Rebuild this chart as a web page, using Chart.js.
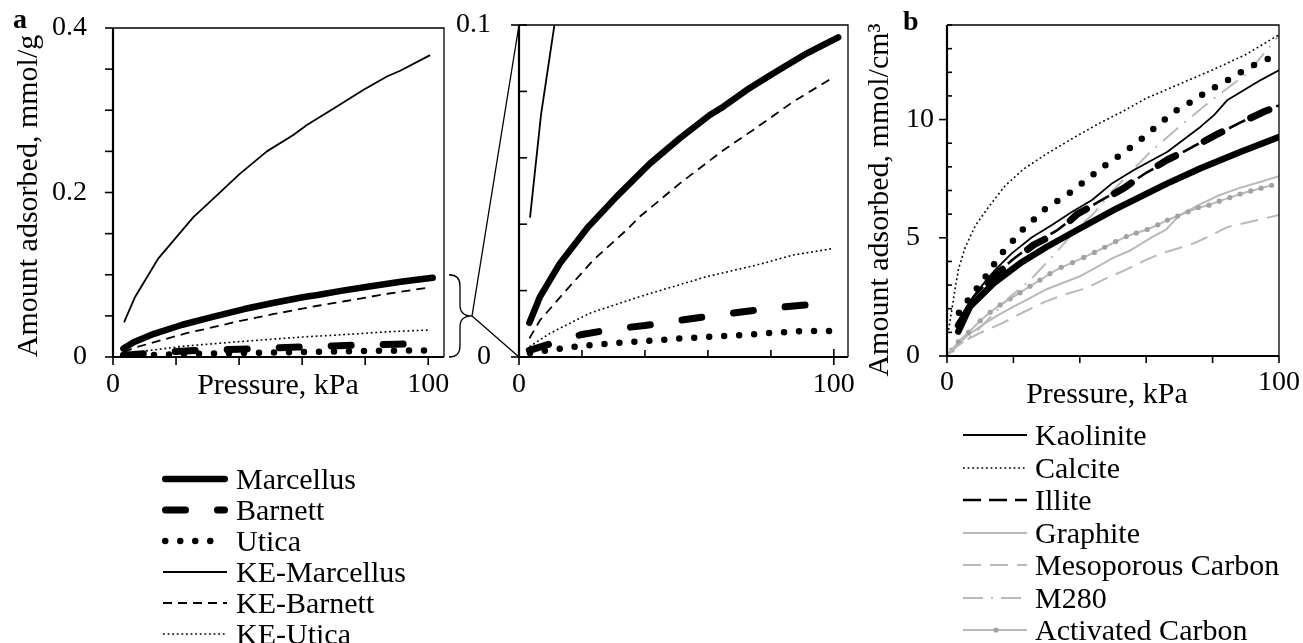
<!DOCTYPE html>
<html>
<head>
<meta charset="utf-8">
<script src="https://cdn.jsdelivr.net/npm/chart.js@4.4.1/dist/chart.umd.min.js"></script>
<style>
  body { margin: 0; background: #fff; width: 1303px; height: 643px; overflow: hidden; position: relative;
         font-family: 'Liberation Serif', 'Times New Roman', serif; }
  canvas { position: absolute; left: 0; top: 0; }
  .lg-row { position: absolute; height: 40px; line-height: 40px; font-size: 30px; white-space: nowrap; color: #000; }
  .lg-svg { position: absolute; }
</style>
</head>
<body>
<canvas id="panel-a" width="1303" height="643"></canvas>
<canvas id="panel-zoom" width="1303" height="643"></canvas>
<canvas id="panel-b" width="1303" height="643"></canvas>
<div id="legends"></div>
<script>
// ── Panel a and its inset: shale isotherms, mmol/g vs kPa ──────
const MARCELLUS_P = [3.3, 6.7, 13, 22, 31, 41.6, 51.1, 60.6, 64.9, 72.3, 80.7, 91.3, 95.6, 101.4];
const MARCELLUS_V = [0.0103, 0.0182, 0.0282, 0.0392, 0.0483, 0.0583, 0.0659, 0.0729, 0.0754, 0.0804, 0.0854, 0.0914, 0.0935, 0.0963];
const BARNETT_P = [3.3, 10, 20, 30, 40, 50, 60, 70, 80, 90, 95];
const BARNETT_V = [0.0020, 0.0040, 0.0068, 0.0084, 0.0095, 0.0109, 0.0122, 0.0135, 0.0147, 0.0156, 0.0158];
const UTICA_P = [3.5, 8.6, 13.5, 18, 23, 32.5, 42, 51.5, 61, 70.5, 80.6, 90.1, 99.7];
const UTICA_V = [0.0012, 0.0019, 0.0026, 0.0031, 0.0036, 0.0043, 0.0049, 0.0056, 0.0061, 0.0066, 0.0073, 0.0078, 0.0078];
const KE_MARCELLUS_P = [3.5, 7, 14.4, 25.5, 30.3, 40.3, 48.8, 57.2, 61.5, 70, 79.5, 86.9, 91.1, 100.6];
const KE_MARCELLUS_V = [0.042, 0.073, 0.120, 0.170, 0.187, 0.223, 0.250, 0.270, 0.282, 0.302, 0.325, 0.341, 0.348, 0.367];
const KE_BARNETT_P = [3.3, 6.7, 15.1, 23.6, 34.2, 38.4, 51.1, 64.9, 74.4, 87.1, 99.8];
const KE_BARNETT_V = [0.0056, 0.0111, 0.0202, 0.0292, 0.0383, 0.0423, 0.0523, 0.0623, 0.0684, 0.0769, 0.0842];
const KE_UTICA_P = [3.3, 9.8, 22.5, 38.4, 59.6, 75.5, 87.1, 99.8];
const KE_UTICA_V = [0.0031, 0.0071, 0.0132, 0.0182, 0.0242, 0.0277, 0.0307, 0.0327];

// ── Panel b: mmol/cm3 vs kPa ───────────────────────────────────
const MARCELLUS_B_P = [3.4, 6.9, 14, 22, 30.1, 39.2, 50.3, 60.3, 66.4, 76.4, 88.5, 100.4];
const MARCELLUS_B_V = [1.03, 2.09, 3.07, 3.92, 4.62, 5.33, 6.18, 6.88, 7.30, 7.94, 8.64, 9.28];
const BARNETT_B_P = [3.4, 6.5, 9, 13.5, 19.5, 26.1, 33.1, 39.2, 45.7, 53.3, 59.3, 66.4, 74.4, 81, 88, 95.6, 100.4];
const BARNETT_B_V = [1.3, 2.0, 2.6, 3.3, 4.0, 4.7, 5.2, 6.0, 6.5, 7.1, 7.7, 8.3, 8.85, 9.35, 9.84, 10.34, 10.6];
const UTICA_B_P = [3.6, 6.4, 9.3, 12, 14.5, 17.3, 20.3, 23.4, 26.8, 30.1, 34.1, 37.9, 41.5, 45.2, 48.7, 52.7, 56.3, 59.8, 63.5, 67.2, 70.7, 74.9, 78.4, 82.5, 86.5, 90.5, 94.6, 98.9];
const UTICA_B_V = [1.83, 2.37, 2.91, 3.43, 3.95, 4.48, 4.94, 5.44, 5.85, 6.29, 6.63, 6.99, 7.40, 7.80, 8.18, 8.55, 8.93, 9.32, 9.76, 10.19, 10.55, 10.83, 11.22, 11.49, 11.84, 12.17, 12.45, 12.70];
const KAOLINITE_P = [3.4, 6, 9, 14.5, 19.5, 25.6, 31.6, 37.7, 43.7, 49.8, 56.3, 66.4, 76.4, 80.5, 84.5, 94.6, 100.6];
const KAOLINITE_V = [1.4, 2.1, 2.72, 3.64, 4.34, 5.02, 5.54, 6.10, 6.60, 7.31, 7.87, 8.64, 9.70, 10.2, 10.83, 11.68, 12.13];
const CALCITE_P = [0.5, 1.5, 2.5, 3.5, 5.5, 8.5, 12.5, 17.5, 23, 30, 39, 46, 53, 60, 70, 80, 90, 100.4];
const CALCITE_V = [1.1, 2.0, 2.9, 3.7, 4.6, 5.5, 6.3, 7.2, 7.9, 8.55, 9.3, 9.85, 10.35, 10.9, 11.5, 12.1, 12.75, 13.62];
const ILLITE_P = [3.4, 8, 14, 20, 26, 33, 40, 46, 53, 60, 67, 74, 81, 88, 95, 100];
const ILLITE_V = [1.4, 2.5, 3.4, 4.1, 4.75, 5.3, 6.05, 6.55, 7.1, 7.75, 8.3, 8.85, 9.35, 9.85, 10.35, 10.6];
const GRAPHITE_P = [0, 3, 6, 10, 15, 19.5, 25, 29.6, 35, 39.7, 45, 50, 55, 62, 66, 70, 76, 82, 88, 94, 100];
const GRAPHITE_V = [0, 0.45, 0.85, 1.25, 1.7, 2.05, 2.45, 2.8, 3.1, 3.35, 3.75, 4.15, 4.45, 5.05, 5.35, 5.95, 6.4, 6.8, 7.1, 7.35, 7.6];
const MESO_P = [0, 2.4, 5, 10, 16.5, 23, 29.6, 35.5, 41.7, 47.5, 53.8, 59, 64.4, 69.5, 74.4, 79.5, 84.5, 92, 100];
const MESO_V = [0, 0.39, 0.62, 0.98, 1.38, 1.85, 2.3, 2.6, 2.86, 3.25, 3.64, 4.0, 4.34, 4.55, 4.77, 5.1, 5.45, 5.7, 5.96];
const M280_P = [0, 5, 10, 19, 25, 33, 40, 44, 50, 61, 70, 79.5, 90.5, 100.6];
const M280_V = [0.1, 0.6, 1.2, 2.5, 3.2, 4.4, 5.5, 6.0, 7.0, 8.6, 9.7, 10.8, 11.96, 13.65];
const ACTIVATED_P = [1.5, 3.4, 6.5, 10, 13, 16, 19, 22, 25, 28, 31, 34.4, 37.8, 41.2, 44.4, 47.5, 50.8, 54, 57, 60.3, 63.5, 66.4, 69.5, 72.6, 75.7, 78.9, 82, 85.2, 88.3, 91.5, 94.6, 97.8];
const ACTIVATED_V = [0.25, 0.6, 1.0, 1.49, 1.85, 2.16, 2.42, 2.68, 2.95, 3.21, 3.48, 3.75, 3.95, 4.17, 4.38, 4.60, 4.84, 5.05, 5.2, 5.35, 5.55, 5.75, 5.92, 6.1, 6.28, 6.38, 6.55, 6.7, 6.85, 6.98, 7.1, 7.22];

// ── Ticks ──────────────────────────────────────────────────────
const X_TICKS = [0, 20, 40, 60, 80, 100];
const X_LABELS = ['0', '', '', '', '', '100'];
const Y_TICKS_A = [0, 0.05, 0.1, 0.15, 0.2, 0.25, 0.3, 0.35, 0.4];
const Y_LABELS_A = ['0', '', '', '', '0.2', '', '', '', '0.4'];
const Y_TICKS_Z = [0, 0.02, 0.04, 0.06, 0.08, 0.1];
const Y_LABELS_Z = ['0', '', '', '', '', '0.1'];
const Y_TICKS_B = [0, 1, 2, 3, 4, 5, 6, 7, 8, 9, 10, 11, 12, 13, 14];
const Y_LABELS_B = ['0', '', '', '', '', '5', '', '', '', '', '10', '', '', '', ''];

const LEGEND_A = ['Marcellus', 'Barnett', 'Utica', 'KE-Marcellus', 'KE-Barnett', 'KE-Utica'];
const LEGEND_B = ['Kaolinite', 'Calcite', 'Illite', 'Graphite', 'Mesoporous Carbon', 'M280', 'Activated Carbon'];

// ── Line styles ────────────────────────────────────────────────
const GRAY = '#b9b9b9';
const STYLE = {
  'Marcellus':         { color: '#000', width: 6.5, cap: 'round' },
  'Barnett':           { color: '#000', width: 7, dash: [20, 32], cap: 'round' },
  'Utica':             { color: '#000', width: 6.5, dash: [0, 15], cap: 'round' },
  'KE-Marcellus':      { color: '#000', width: 1.8 },
  'KE-Barnett':        { color: '#000', width: 1.8, dash: [9, 6] },
  'KE-Utica':          { color: '#000', width: 1.6, dash: [1.8, 2.8] },
  'Kaolinite':         { color: '#000', width: 1.8 },
  'Calcite':           { color: '#000', width: 1.6, dash: [1.8, 2.8] },
  'Illite':            { color: '#000', width: 2.6, dash: [18, 8] },
  'Graphite':          { color: GRAY, width: 2 },
  'Mesoporous Carbon': { color: GRAY, width: 2, dash: [18, 9] },
  'M280':              { color: GRAY, width: 2, dash: [20, 8, 2, 8] },
  'Activated Carbon':  { color: GRAY, width: 2, marker: '#a2a2a2' },
};

Chart.defaults.font.family = "'Liberation Serif', 'Times New Roman', serif";
Chart.defaults.color = '#000';

function series(name, P, V) {
  const s = STYLE[name];
  return {
    label: name,
    data: P.map((x, i) => ({ x, y: V[i] })),
    borderColor: s.color,
    borderWidth: s.width,
    borderDash: s.dash || [],
    borderCapStyle: s.cap || 'butt',
    borderJoinStyle: 'round',
    pointRadius: s.marker ? 2.6 : 0,
    pointBackgroundColor: s.marker || s.color,
    pointBorderWidth: 0,
    fill: false,
    tension: 0,
  };
}

// box, tick marks, titles, panel letter
function frame(cfg) {
  return {
    id: 'frame',
    afterDatasetsDraw(chart) {
      const { ctx, chartArea: a } = chart;
      ctx.save();
      ctx.strokeStyle = '#000';
      ctx.lineWidth = 1.3;
      ctx.beginPath();
      ctx.moveTo(a.left, a.top); ctx.lineTo(a.right, a.top); ctx.lineTo(a.right, a.bottom);
      ctx.stroke();
      ctx.lineWidth = 2.2;
      ctx.beginPath();
      ctx.moveTo(a.left, a.top); ctx.lineTo(a.left, a.bottom); ctx.lineTo(a.right, a.bottom);
      ctx.stroke();
      ctx.lineWidth = 1.6;
      cfg.marks.forEach(m => {
        const s = chart.scales[m.axis];
        m.values.forEach(v => {
          const p = s.getPixelForValue(v);
          ctx.beginPath();
          if (m.axis === 'x') { ctx.moveTo(p, a.bottom + m.out); ctx.lineTo(p, a.bottom - m.in); }
          else { ctx.moveTo(a.left - m.out, p); ctx.lineTo(a.left + m.in, p); }
          ctx.stroke();
        });
      });
      ctx.fillStyle = '#000';
      ctx.textAlign = 'center';
      ctx.textBaseline = 'middle';
      ctx.font = "30px 'Liberation Serif'";
      if (cfg.xTitle) ctx.fillText(cfg.xTitle.text, cfg.xTitle.x, cfg.xTitle.y);
      if (cfg.yTitle) {
        ctx.save();
        ctx.translate(cfg.yTitle.x, cfg.yTitle.y);
        ctx.rotate(-Math.PI / 2);
        ctx.fillText(cfg.yTitle.text, 0, 0);
        ctx.restore();
      }
      if (cfg.letter) {
        ctx.font = "bold 28px 'Liberation Serif'";
        ctx.textAlign = 'left';
        ctx.textBaseline = 'alphabetic';
        ctx.fillText(cfg.letter.text, cfg.letter.x, cfg.letter.y);
      }
      ctx.restore();
    }
  };
}

function noPad(s) { s.paddingTop = 0; s.paddingBottom = 0; s.paddingLeft = 0; s.paddingRight = 0; }

function axes(xMax, yMax, yTicks, yLabels, yWidth, yPad, yAlign, xPad) {
  return {
    x: {
      type: 'linear', min: 0, max: xMax,
      afterBuildTicks: s => { s.ticks = X_TICKS.map(value => ({ value })); },
      afterFit: s => { s.height = 60; noPad(s); },
      grid: { display: false, drawTicks: false },
      border: { display: false },
      ticks: { callback: (v, i) => X_LABELS[i], padding: xPad, maxRotation: 0, autoSkip: false, font: { size: 28 } },
    },
    y: {
      type: 'linear', min: 0, max: yMax,
      afterBuildTicks: s => { s.ticks = yTicks.map(value => ({ value })); },
      afterFit: s => { s.width = yWidth; noPad(s); },
      grid: { display: false, drawTicks: false },
      border: { display: false },
      ticks: { callback: (v, i) => yLabels[i], padding: yPad, crossAlign: yAlign, autoSkip: false, font: { size: 28 } },
    },
  };
}

const BASE = { responsive: false, animation: false, events: [], plugins: { legend: { display: false }, tooltip: { enabled: false } } };

const shaleSets = () => [
  series('Marcellus', MARCELLUS_P, MARCELLUS_V),
  series('Barnett', BARNETT_P, BARNETT_V),
  series('Utica', UTICA_P, UTICA_V),
  series('KE-Marcellus', KE_MARCELLUS_P, KE_MARCELLUS_V),
  series('KE-Barnett', KE_BARNETT_P, KE_BARNETT_V),
  series('KE-Utica', KE_UTICA_P, KE_UTICA_V),
];

// ── Panel a ────────────────────────────────────────────────────
const chartA = new Chart(document.getElementById('panel-a'), {
  type: 'line',
  data: { datasets: shaleSets() },
  options: { ...BASE,
    layout: { padding: { left: 13, right: 859, top: 28, bottom: 226 } },
    scales: axes(105, 0.4, Y_TICKS_A, Y_LABELS_A, 100, 26, 'near', 11) },
  plugins: [frame({
    marks: [{ axis: 'x', values: X_TICKS, out: 8, in: 0 }, { axis: 'y', values: Y_TICKS_A, out: 8, in: 0 }],
    xTitle: { text: 'Pressure, kPa', x: 278, y: 386 },
    yTitle: { text: 'Amount adsorbed, mmol/g', x: 29, y: 196 },
    letter: { text: 'a', x: 13, y: 28 },
  })],
});

// brace on panel a's 0–0.1 range and lines to the inset
const zoomLines = {
  id: 'zoomLines',
  afterDraw(chart) {
    const { ctx, chartArea: a } = chart;
    const ys = chartA.scales.y;
    const top = ys.getPixelForValue(0.1), bot = ys.getPixelForValue(0), mid = (top + bot) / 2;
    const x0 = chartA.chartArea.right + 5, x1 = x0 + 11, x2 = x0 + 23, r = 11;
    ctx.save();
    ctx.strokeStyle = '#000';
    ctx.lineWidth = 1.3;
    ctx.beginPath();
    ctx.moveTo(x0, top);
    ctx.quadraticCurveTo(x1, top, x1, top + r);
    ctx.lineTo(x1, mid - r);
    ctx.quadraticCurveTo(x1, mid, x2, mid);
    ctx.quadraticCurveTo(x1, mid, x1, mid + r);
    ctx.lineTo(x1, bot - r);
    ctx.quadraticCurveTo(x1, bot, x0, bot);
    ctx.stroke();
    ctx.beginPath();
    ctx.moveTo(a.left, a.top); ctx.lineTo(x2, mid); ctx.lineTo(a.left, a.bottom);
    ctx.stroke();
    ctx.restore();
  }
};

// ── Inset (0–0.1) ──────────────────────────────────────────────
new Chart(document.getElementById('panel-zoom'), {
  type: 'line',
  data: { datasets: shaleSets() },
  options: { ...BASE,
    layout: { padding: { left: 439, right: 455, top: 25, bottom: 226 } },
    scales: axes(104.5, 0.1, Y_TICKS_Z, Y_LABELS_Z, 80, 28, 'near', 11) },
  plugins: [frame({
    marks: [
      { axis: 'x', values: [0, 100], out: 8, in: 8 },
      { axis: 'x', values: [20, 40, 60, 80], out: 0, in: 7 },
      { axis: 'y', values: [0, 0.1], out: 8, in: 8 },
      { axis: 'y', values: [0.02, 0.04, 0.06, 0.08], out: 0, in: 8 },
    ],
  }), zoomLines],
});

// ── Panel b ────────────────────────────────────────────────────
new Chart(document.getElementById('panel-b'), {
  type: 'line',
  data: { datasets: [
    series('Marcellus', MARCELLUS_B_P, MARCELLUS_B_V),
    series('Barnett', BARNETT_B_P, BARNETT_B_V),
    series('Utica', UTICA_B_P, UTICA_B_V),
    series('Kaolinite', KAOLINITE_P, KAOLINITE_V),
    series('Calcite', CALCITE_P, CALCITE_V),
    series('Illite', ILLITE_P, ILLITE_V),
    series('M280', M280_P, M280_V),
    series('Activated Carbon', ACTIVATED_P, ACTIVATED_V),
    series('Graphite', GRAPHITE_P, GRAPHITE_V),
    series('Mesoporous Carbon', MESO_P, MESO_V),
  ] },
  options: { ...BASE,
    layout: { padding: { left: 906, right: 24, top: 25, bottom: 227 } },
    scales: axes(100, 14, Y_TICKS_B, Y_LABELS_B, 41, 0, 'far', 10) },
  plugins: [frame({
    marks: [
      { axis: 'x', values: X_TICKS, out: 7, in: 0 },
      { axis: 'y', values: [0, 5, 10], out: 8, in: 0 },
      { axis: 'y', values: Y_TICKS_B.filter(v => v % 5 !== 0), out: 0, in: 5 },
    ],
    xTitle: { text: 'Pressure, kPa', x: 1107, y: 395 },
    yTitle: { text: 'Amount adsorbed, mmol/cm\u00b3', x: 880, y: 200 },
    letter: { text: 'b', x: 903, y: 30 },
  })],
});

// ── Legends ────────────────────────────────────────────────────
function legend(names, sampleLeft, textLeft, firstY, step) {
  const host = document.getElementById('legends');
  names.forEach((name, i) => {
    const s = STYLE[name];
    const cy = firstY + i * step;
    const dash = s.dash ? `stroke-dasharray="${s.dash.join(' ')}"` : '';
    const dot = s.marker ? `<circle cx="35" cy="8" r="2.6" fill="${s.marker}"/>` : '';
    const pad = s.cap === 'round' ? s.width / 2 + 1 : 2;
    const svg = document.createElementNS('http://www.w3.org/2000/svg', 'svg');
    svg.setAttribute('class', 'lg-svg');
    svg.setAttribute('width', '70'); svg.setAttribute('height', '16');
    svg.style.left = sampleLeft + 'px'; svg.style.top = (cy - 8) + 'px';
    svg.innerHTML = `<line x1="${pad}" y1="8" x2="${68 - pad}" y2="8" stroke="${s.color}" stroke-width="${s.width}"
      stroke-linecap="${s.cap || 'butt'}" ${dash}/>${dot}`;
    host.appendChild(svg);
    const row = document.createElement('div');
    row.className = 'lg-row';
    row.style.left = textLeft + 'px'; row.style.top = (cy - 20) + 'px';
    row.textContent = name;
    host.appendChild(row);
  });
}
legend(LEGEND_A, 161, 236, 479, 30.9);
legend(LEGEND_B, 961, 1035, 435, 32.5);
</script>
</body>
</html>
